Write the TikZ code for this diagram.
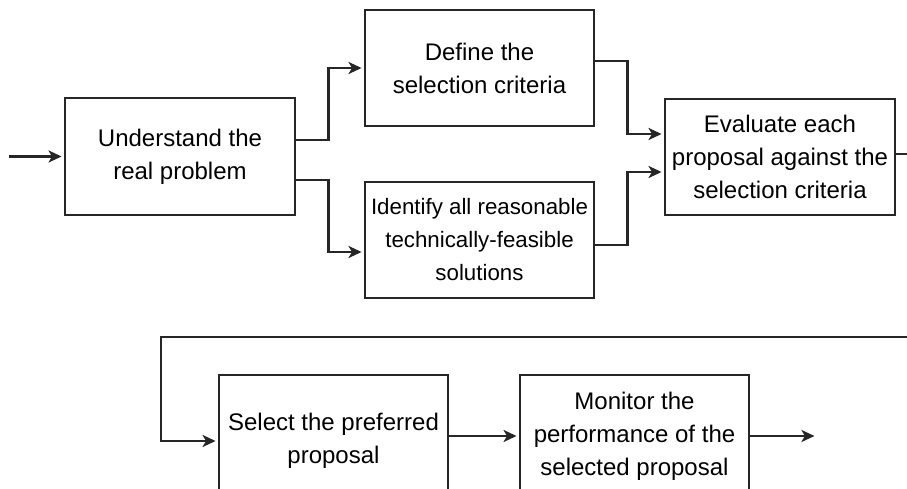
\documentclass[tikz,border=0pt]{standalone}
\usepackage{fontspec}
\setmainfont{Liberation Sans}
\usetikzlibrary{arrows.meta,calc}
\begin{document}
\begin{tikzpicture}[x=1pt,y=1pt,
  box/.style={draw=black!85, line width=2.9pt, align=center, inner sep=0pt,
    font=\fontsize{24}{33}\selectfont, text=black},
  arr/.style={draw=black!85, line width=2.9pt,
    -{Stealth[length=13pt,width=12pt,inset=3.5pt]}, shorten >=2pt}]
\clip (0,0) rectangle (907,489);
\fill[white] (0,0) rectangle (907,489);

% process steps
\node[box, minimum width=230pt, minimum height=117pt] (A) at (180,332.5)
  {Understand the\\real problem};
\node[box, minimum width=229pt, minimum height=116pt] (B) at (479.5,421)
  {Define the\\selection criteria};
\node[box, minimum width=229pt, minimum height=116pt,
  font=\fontsize{22.3}{33}\selectfont] (C) at (479.5,249)
  {Identify all reasonable\\technically-feasible\\solutions};
\node[box, minimum width=230pt, minimum height=116pt] (E) at (780,332)
  {Evaluate each\\proposal against the\\selection criteria};
\node[box, minimum width=229pt, minimum height=132pt] (F) at (333.5,48)
  {Select the preferred\\proposal};
\node[box, minimum width=229pt, minimum height=122pt] (G) at (634.5,53)
  {Monitor the\\performance of the\\selected proposal};

% free ends and bends
\coordinate (start) at ($(A.west)+(-55,0)$);
\coordinate (bend) at (161,152);
\coordinate (finish) at ($(G.east)+(66,0)$);

% connectors
\draw[arr] (start) -- (A.west);
\draw[arr] ([yshift=16.5pt]A.east) -- ++(32,0) |- (B.west);
\draw[arr] ([yshift=-23.5pt]A.east) -- ++(32,0) |- ([yshift=-12pt]C.west);
\draw[arr] ([yshift=7pt]B.east) -- ++(32,0) |- ([yshift=23pt]E.west);
\draw[arr] ([yshift=-5pt]C.east) -- ++(32,0) |- ([yshift=-15pt]E.west);
\draw[arr] ([yshift=3pt]E.east) -- ++(30,0) |- (bend) |- (F.west);
\draw[arr] (F.east |- G.west) -- (G.west);
\draw[arr] (G.east) -- (finish);
\end{tikzpicture}
\end{document}
